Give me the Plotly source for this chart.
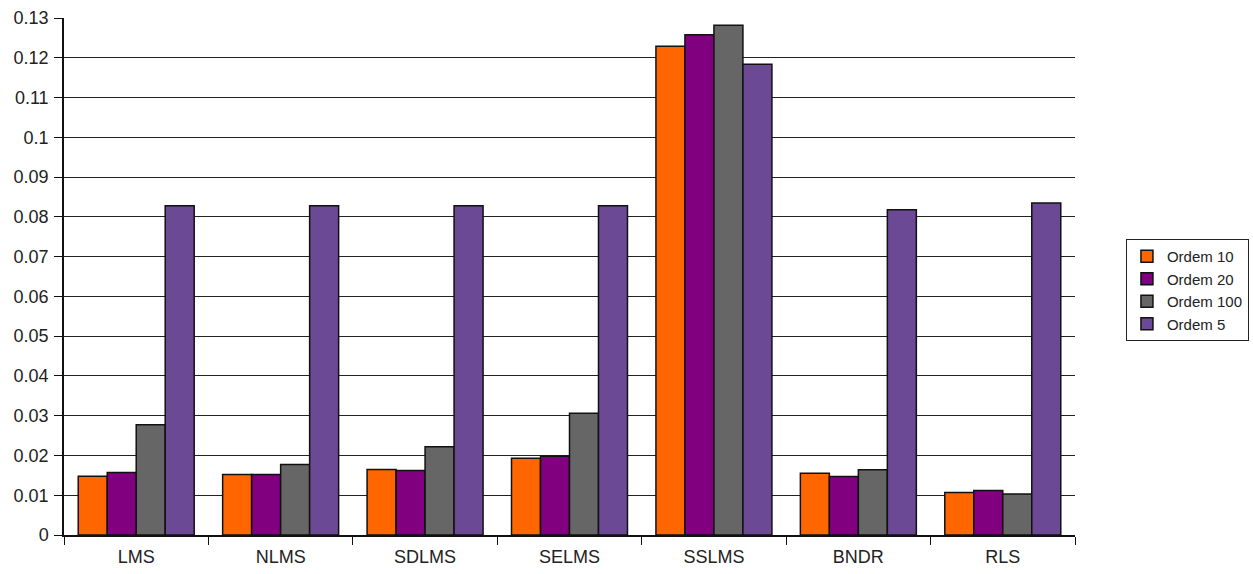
import plotly.graph_objects as go

# Algorithms compared on the x axis
algorithms = ["LMS", "NLMS", "SDLMS", "SELMS", "SSLMS", "BNDR", "RLS"]

# Error per algorithm for each filter order
ordem_10 = [0.0148, 0.0152, 0.0165, 0.0193, 0.1229, 0.0155, 0.0107]
ordem_20 = [0.0157, 0.0152, 0.0162, 0.0198, 0.1258, 0.0147, 0.0112]
ordem_100 = [0.0277, 0.0177, 0.0222, 0.0306, 0.1282, 0.0164, 0.0103]
ordem_5 = [0.0828, 0.0828, 0.0828, 0.0828, 0.1184, 0.0818, 0.0835]

# Y tick values and labels
y_ticks = [0, 0.01, 0.02, 0.03, 0.04, 0.05, 0.06, 0.07, 0.08, 0.09, 0.1, 0.11, 0.12, 0.13]
y_labels = ["0", "0.01", "0.02", "0.03", "0.04", "0.05", "0.06", "0.07", "0.08",
            "0.09", "0.1", "0.11", "0.12", "0.13"]

series = [
    ("Ordem 10", ordem_10, "#FF6600"),
    ("Ordem 20", ordem_20, "#800080"),
    ("Ordem 100", ordem_100, "#666666"),
    ("Ordem 5", ordem_5, "#6B4994"),
]

fig = go.Figure()
for i, (name, vals, color) in enumerate(series):
    fig.add_trace(go.Bar(
        x=algorithms, y=vals, name=name,
        marker=dict(color=color, line=dict(color="#111111", width=1.5)),
        legendgroup=str(i),
    ))

font_family = "Liberation Sans, Arial, sans-serif"

fig.update_layout(
    width=1253, height=574,
    margin=dict(l=64, r=178, t=18, b=39, autoexpand=False),
    paper_bgcolor="white", plot_bgcolor="white",
    barmode="group", bargap=0.197, bargroupgap=0,
    font=dict(family=font_family, size=18, color="#222222"),
    showlegend=True,
    legend=dict(
        x=1.0504, xanchor="left", y=0.474, yanchor="middle",
        bordercolor="#222222", borderwidth=1, bgcolor="white",
        font=dict(size=15, color="#222222"),
        tracegroupgap=6,
        traceorder="normal",
        itemwidth=30,
    ),
)

fig.update_xaxes(
    showline=True, linecolor="#111111", linewidth=1.5,
    ticks="outside", tickson="boundaries", ticklen=8, tickcolor="#111111",
    tickfont=dict(size=18), showgrid=False, ticklabelstandoff=5,
)
fig.update_yaxes(
    range=[0, 0.13], tickvals=y_ticks, ticktext=y_labels,
    showline=True, linecolor="#111111", linewidth=1.5,
    ticks="outside", ticklen=8, tickcolor="#111111",
    showgrid=True, gridcolor="#222222", gridwidth=1.3,
    zeroline=False, tickfont=dict(size=18), ticklabelstandoff=2,
)

fig.write_html("out.html")
